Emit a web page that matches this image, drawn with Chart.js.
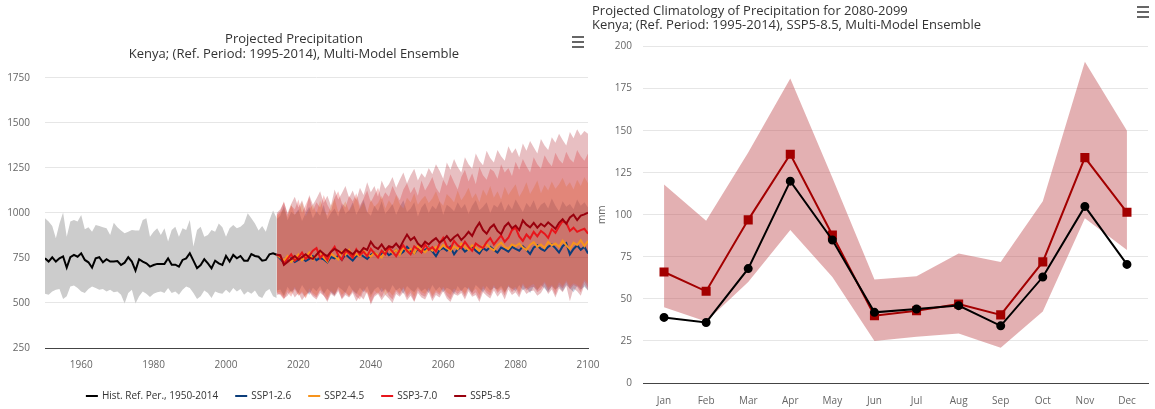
<!DOCTYPE html>
<html>
<head>
<meta charset="utf-8">
<script src="https://cdn.jsdelivr.net/npm/chart.js@4.4.0/dist/chart.umd.min.js"></script>
<style>
  html, body { margin: 0; padding: 0; background: #fff; }
  #wrap { position: relative; width: 1155px; height: 409px; }
  .box { position: absolute; top: 0; height: 409px; }
  #left { left: 0; width: 600px; }
  #right { left: 590px; width: 565px; }
</style>
</head>
<body>
<div id="wrap">
  <div class="box" id="left"><canvas id="trendChart"></canvas></div>
  <div class="box" id="right"><canvas id="climChart"></canvas></div>
</div>
<script>
// Years on the x axis
const histYears = Array.from({ length: 65 }, (_, i) => 1950 + i);
const projYears = Array.from({ length: 87 }, (_, i) => 2014 + i);
const yearTicks = [1960, 1980, 2000, 2020, 2040, 2060, 2080, 2100];

// Historical reference, annual precipitation (mm)
const histMedian = [
  748, 730, 754, 730, 748, 759, 696, 754, 767, 757,
  776, 739, 726, 696, 748, 754, 726, 743, 730, 730,
  733, 711, 724, 754, 730, 680, 743, 730, 720, 702,
  711, 717, 717, 717, 748, 713, 713, 702, 739, 748,
  776, 735, 693, 711, 743, 720, 693, 735, 720, 711,
  761, 730, 767, 748, 761, 735, 735, 772, 761, 757,
  735, 739, 770, 776, 768
];
const histHigh = [
  970, 952, 928, 859, 942, 1002, 868, 952, 961, 952,
  989, 909, 920, 896, 933, 928, 920, 915, 878, 946,
  920, 902, 887, 896, 906, 902, 902, 961, 970, 868,
  896, 915, 878, 915, 841, 906, 924, 868, 915, 906,
  961, 813, 906, 924, 868, 878, 906, 896, 942, 920,
  868, 915, 933, 915, 924, 942, 998, 970, 942, 902,
  928, 896, 961, 1013, 970
];
const histLow = [
  551, 546, 564, 573, 577, 522, 537, 592, 597, 583,
  564, 555, 577, 592, 583, 573, 577, 564, 573, 559,
  564, 546, 497, 555, 573, 497, 537, 564, 551, 533,
  551, 559, 564, 555, 583, 555, 564, 546, 573, 592,
  583, 555, 522, 537, 570, 555, 527, 564, 555, 551,
  573, 555, 583, 564, 577, 546, 564, 551, 570, 537,
  527, 564, 577, 537, 527
];

// SSP1-2.6 (2014-2100)
const ssp126 = [768,
  745, 722, 735, 748, 728, 740, 752, 733, 745, 760,
  738, 750, 742, 726, 755, 748, 762, 740, 770, 752,
  735, 760, 772, 758, 745, 768, 780, 760, 775, 790,
  765, 778, 795, 770, 785, 812, 790, 775, 800, 782,
  795, 808, 786, 760, 795, 805, 790, 812, 770, 798,
  810, 785, 800, 815, 790, 775, 805, 792, 812, 795,
  780, 808, 798, 785, 812, 800, 790, 815, 795, 772,
  808, 820, 800, 790, 812, 825, 805, 780, 815, 832,
  770, 800, 820, 795, 812, 775
];
const ssp126High = [965,
  985, 1040, 960, 1005, 990, 1020, 955, 1000, 1035, 970,
  1010, 985, 1045, 965, 1000, 1025, 980, 1050, 995, 1015,
  1060, 990, 1030, 1075, 1005, 985, 1040, 1010, 1065, 995,
  1020, 1050, 990, 1035, 1070, 1005, 1025, 1060, 980, 1030,
  1055, 1000, 1040, 1020, 1065, 990, 1045, 1030, 1010, 1060,
  1025, 1050, 995, 1040, 1070, 1015, 1035, 1060, 1000, 1045,
  1030, 1065, 1010, 1050, 1020, 1075, 1040, 1005, 1055, 1030,
  1070, 1015, 1045, 1060, 1025, 1080, 1040, 1010, 1065, 1035,
  1050, 1020, 1075, 1040, 1060, 1030
];
const ssp126Low = [570,
  575, 540, 590, 560, 580, 555, 600, 570, 545, 585,
  565, 595, 550, 580, 560, 540, 590, 575, 555, 600,
  570, 550, 585, 560, 595, 545, 575, 590, 560, 580,
  555, 600, 570, 585, 550, 595, 575, 560, 590, 565,
  580, 555, 600, 570, 590, 560, 585, 575, 550, 595,
  565, 590, 575, 555, 600, 580, 560, 595, 570, 585,
  575, 595, 560, 590, 580, 565, 600, 570, 585, 555,
  590, 570, 600, 580, 560, 595, 575, 590, 565, 600,
  580, 560, 595, 575, 590, 570
];

// SSP2-4.5 (2014-2100)
const ssp245 = [768,
  752, 735, 760, 728, 745, 770, 738, 755, 780, 742,
  765, 790, 752, 730, 775, 760, 742, 785, 768, 795,
  755, 772, 760, 790, 770, 758, 780, 765, 752, 790,
  805, 778, 795, 768, 810, 788, 800, 775, 815, 795,
  782, 805, 790, 812, 798, 822, 805, 790, 815, 800,
  830, 812, 795, 820, 808, 790, 815, 825, 805, 792,
  820, 835, 812, 800, 825, 815, 830, 808, 795, 822,
  838, 812, 825, 805, 840, 820, 830, 812, 845, 820,
  800, 835, 822, 848, 815, 845
];
const ssp245High = [980,
  1000, 1025, 975, 1050, 990, 1010, 1060, 980, 1020, 1045,
  995, 1070, 1015, 985, 1040, 1080, 1005, 1030, 1065, 1010,
  1045, 1090, 1020, 1060, 1000, 1075, 1035, 1055, 1095, 1025,
  1070, 1040, 1100, 1050, 1025, 1085, 1060, 1110, 1045, 1075,
  1095, 1055, 1080, 1120, 1065, 1040, 1105, 1085, 1060, 1125,
  1070, 1100, 1140, 1080, 1110, 1060, 1130, 1095, 1150, 1085,
  1120, 1075, 1145, 1100, 1130, 1160, 1090, 1125, 1170, 1105,
  1140, 1180, 1110, 1155, 1125, 1175, 1135, 1160, 1195, 1145,
  1170, 1130, 1185, 1150, 1200, 1165
];
const ssp245Low = [560,
  560, 535, 575, 550, 590, 545, 565, 530, 580, 555,
  540, 575, 560, 530, 570, 550, 585, 545, 565, 535,
  575, 555, 540, 580, 560, 530, 570, 550, 585, 545,
  565, 540, 575, 555, 590, 545, 570, 535, 580, 560,
  550, 585, 540, 570, 555, 590, 560, 545, 580, 565,
  575, 550, 590, 560, 580, 545, 595, 570, 555, 600,
  565, 585, 555, 600, 575, 590, 560, 610, 580, 595,
  605, 575, 590, 620, 585, 600, 570, 615, 595, 625,
  590, 610, 600, 585, 630, 605
];

// SSP3-7.0 (2014-2100)
const ssp370 = [768,
  760, 718, 745, 770, 735, 752, 780, 745, 762, 790,
  805, 750, 772, 738, 785, 812, 765, 740, 790, 775,
  752, 798, 768, 785, 760, 800, 775, 752, 790, 770,
  808, 785, 760, 795, 820, 790, 770, 815, 798, 780,
  825, 795, 810, 785, 830, 862, 815, 800, 845, 820,
  805, 840, 812, 790, 830, 815, 805, 838, 860, 825,
  850, 875, 840, 862, 905, 918, 870, 845, 880, 858,
  895, 870, 900, 885, 862, 910, 890, 925, 955, 945,
  900, 918, 895, 905, 912, 885
];
const ssp370High = [990,
  1010, 1065, 990, 1040, 1020, 1075, 1000, 1045, 1090, 1015,
  1060, 1030, 1100, 1045, 1010, 1085, 1120, 1055, 1030, 1095,
  1065, 1110, 1040, 1080, 1125, 1060, 1100, 1140, 1075, 1115,
  1090, 1150, 1105, 1070, 1130, 1165, 1110, 1145, 1095, 1180,
  1125, 1160, 1200, 1140, 1110, 1185, 1150, 1215, 1170, 1130,
  1200, 1240, 1175, 1220, 1160, 1255, 1210, 1185, 1245, 1230,
  1190, 1270, 1225, 1250, 1205, 1285, 1240, 1300, 1260, 1225,
  1310, 1270, 1245, 1320, 1285, 1260, 1335, 1295, 1275, 1340,
  1300, 1280, 1350, 1315, 1290, 1330
];
const ssp370Low = [555,
  545, 520, 560, 535, 575, 540, 555, 525, 565, 545,
  530, 570, 540, 515, 560, 545, 575, 525, 555, 540,
  565, 535, 520, 570, 550, 500, 545, 560, 530, 575,
  540, 520, 565, 545, 580, 530, 555, 510, 570, 545,
  535, 575, 525, 560, 545, 580, 540, 520, 565, 550,
  570, 535, 585, 545, 560, 520, 580, 555, 540, 590,
  555, 575, 540, 595, 560, 580, 545, 600, 570, 585,
  590, 560, 575, 610, 570, 590, 545, 600, 580, 615,
  575, 600, 590, 560, 620, 585
];

// SSP5-8.5 (2014-2100)
const ssp585 = [768,
  765, 712, 728, 745, 760, 740, 755, 770, 752, 745,
  768, 790, 772, 760, 785, 800, 790, 775, 798, 785,
  770, 792, 780, 805, 795, 840, 812, 800, 825, 795,
  815, 808, 830, 805, 845, 880, 850, 865, 830, 812,
  840, 825, 845, 860, 835, 850, 872, 845, 865, 880,
  850, 870, 895, 872, 915, 945, 905, 885, 918, 935,
  900, 882, 925, 945, 915, 930, 905, 958, 935, 920,
  945, 918, 940, 925, 948, 930, 912, 945, 965, 940,
  975, 990, 960, 985, 992, 1002
];
const ssp585High = [1000,
  1020, 1060, 1000, 1050, 1090, 1030, 1070, 1010, 1100, 1045,
  1080, 1120, 1055, 1095, 1040, 1130, 1075, 1110, 1150, 1085,
  1125, 1070, 1140, 1100, 1170, 1115, 1150, 1090, 1180, 1135,
  1160, 1200, 1140, 1185, 1225, 1165, 1210, 1245, 1180, 1220,
  1195, 1250, 1215, 1270, 1235, 1190, 1280, 1240, 1300, 1255,
  1225, 1310, 1270, 1245, 1330, 1290, 1265, 1345, 1305, 1280,
  1350, 1315, 1290, 1370, 1330, 1360, 1310, 1385, 1345, 1400,
  1365, 1330, 1410, 1375, 1350, 1420, 1390, 1440, 1405, 1375,
  1450, 1415, 1465, 1430, 1455, 1440
];
const ssp585Low = [545,
  550, 525, 540, 570, 530, 555, 515, 545, 560, 535,
  520, 555, 540, 505, 550, 535, 565, 520, 545, 530,
  555, 510, 540, 520, 565, 490, 535, 550, 515, 545,
  525, 500, 550, 535, 560, 515, 540, 505, 555, 530,
  520, 560, 510, 545, 530, 565, 525, 505, 550, 540,
  555, 520, 565, 535, 545, 505, 560, 540, 525, 570,
  535, 560, 520, 575, 545, 560, 530, 580, 550, 565,
  570, 540, 555, 590, 550, 575, 530, 580, 560, 595,
  510, 580, 565, 540, 600, 570
];

// Monthly climatology 2080-2099 (mm)
const months = ['Jan', 'Feb', 'Mar', 'Apr', 'May', 'Jun', 'Jul', 'Aug', 'Sep', 'Oct', 'Nov', 'Dec'];
const climRef = [39, 36, 68, 120, 85, 42, 44, 46, 34, 63, 105, 70.5];
const climSsp585 = [66, 54.5, 97, 136, 88, 40, 43, 47, 40.5, 72, 134, 101.5];
const climLow = [45, 36.5, 60, 91, 63, 25, 27.5, 29.5, 21, 42.5, 98, 79];
const climHigh = [118, 96.5, 137, 181, 122, 61.5, 63.5, 77, 72, 108, 191, 150];

Chart.defaults.font.family = '"Open Sans", sans-serif';
Chart.defaults.color = '#666';
Chart.defaults.animation = false;

const toPoints = (years, vals) => years.map((yr, i) => ({ x: yr, y: vals[i] }));

const scenarios = [
  { name: 'SSP1-2.6', mid: ssp126, low: ssp126Low, high: ssp126High, color: '#0b3d7a', band: 'rgba(20,60,120,0.24)' },
  { name: 'SSP2-4.5', mid: ssp245, low: ssp245Low, high: ssp245High, color: '#f7941d', band: 'rgba(245,150,40,0.27)' },
  { name: 'SSP3-7.0', mid: ssp370, low: ssp370Low, high: ssp370High, color: '#e8151b', band: 'rgba(230,40,40,0.27)' },
  { name: 'SSP5-8.5', mid: ssp585, low: ssp585Low, high: ssp585High, color: '#99000d', band: 'rgba(170,20,30,0.27)' }
];

// Hamburger menu icon
function menuIcon(x, y) {
  return {
    id: 'menuIcon',
    afterDraw(chart) {
      const c = chart.ctx;
      c.save();
      c.strokeStyle = '#666';
      c.lineWidth = 2;
      for (let i = 0; i < 3; i++) {
        c.beginPath();
        c.moveTo(x, y + i * 5);
        c.lineTo(x + 12, y + i * 5);
        c.stroke();
      }
      c.restore();
    }
  };
}

// Legend drawn as short lines under the trend chart
const lineLegend = {
  id: 'lineLegend',
  afterDraw(chart) {
    const c = chart.ctx;
    const items = chart.data.datasets.filter(d => d.inLegend);
    c.save();
    c.font = '10px "Open Sans", sans-serif';
    c.textBaseline = 'middle';
    const widths = items.map(d => c.measureText(d.label).width);
    const total = widths.reduce((a, w) => a + w + 16, 0) + 17 * (items.length - 1);
    let x = 298 - total / 2;
    const y = 396;
    items.forEach((d, i) => {
      c.strokeStyle = d.borderColor;
      c.lineWidth = 2;
      c.beginPath();
      c.moveTo(x, y);
      c.lineTo(x + 12, y);
      c.stroke();
      c.fillStyle = '#333';
      c.fillText(d.label, x + 16, y);
      x += 16 + widths[i] + 17;
    });
    c.restore();
  }
};

// Build trend chart datasets
const trendSets = [];
trendSets.push({ data: toPoints(histYears, histLow), borderWidth: 0, pointRadius: 0, fill: false, order: 10 });
trendSets.push({ data: toPoints(histYears, histHigh), borderWidth: 0, pointRadius: 0, fill: 0, backgroundColor: '#cccccc', order: 10 });
scenarios.forEach((s, k) => {
  const lowIdx = trendSets.length;
  trendSets.push({ data: toPoints(projYears, s.low), borderWidth: 0, pointRadius: 0, fill: false, order: 8 - k });
  trendSets.push({ data: toPoints(projYears, s.high), borderWidth: 0, pointRadius: 0, fill: lowIdx, backgroundColor: s.band, order: 8 - k });
});
trendSets.push({
  label: 'Hist. Ref. Per., 1950-2014', data: toPoints(histYears, histMedian),
  borderColor: '#000', borderWidth: 2, pointRadius: 0, fill: false, inLegend: true, order: 0
});
scenarios.forEach((s, k) => {
  trendSets.push({
    label: s.name, data: toPoints(projYears, s.mid),
    borderColor: s.color, borderWidth: 2, pointRadius: 0, fill: false, inLegend: true, order: -1 - k
  });
});

new Chart(document.getElementById('trendChart'), {
  type: 'line',
  data: { datasets: trendSets },
  options: {
    responsive: true,
    maintainAspectRatio: false,
    layout: { padding: { left: 0, right: 12, top: 0, bottom: 31 } },
    elements: { line: { tension: 0 } },
    plugins: {
      legend: { display: false },
      tooltip: { enabled: false },
      title: {
        display: true,
        text: ['Projected Precipitation', 'Kenya; (Ref. Period: 1995-2014), Multi-Model Ensemble'],
        color: '#333',
        font: { size: 13, weight: 'normal', lineHeight: 1.15 },
        padding: { top: 32, bottom: 16 }
      }
    },
    scales: {
      x: {
        type: 'linear',
        min: 1950,
        max: 2100,
        afterBuildTicks: axis => { axis.ticks = yearTicks.map(v => ({ value: v })); },
        afterFit: s => { s.height = 30; s.paddingRight = 0; s.paddingLeft = 0; },
        ticks: { callback: v => String(v), font: { size: 10 }, padding: 11, maxRotation: 0, autoSkip: false },
        grid: { display: false, drawTicks: false },
        border: { display: true, color: '#444', width: 1 }
      },
      y: {
        min: 250,
        max: 1750,
        afterFit: s => { s.width = 45; },
        ticks: { stepSize: 250, callback: v => String(v), font: { size: 10 }, padding: 15 },
        grid: { color: '#e6e6e6', drawTicks: false },
        border: { display: false }
      }
    }
  },
  plugins: [lineLegend, menuIcon(572, 37)]
});

// Monthly climatology chart
new Chart(document.getElementById('climChart'), {
  type: 'line',
  data: {
    labels: months,
    datasets: [
      { data: climLow, borderWidth: 0, pointRadius: 0, fill: false, order: 5 },
      { data: climHigh, borderWidth: 0, pointRadius: 0, fill: 0, backgroundColor: 'rgba(192,80,85,0.45)', order: 5 },
      {
        label: 'SSP5-8.5', data: climSsp585, borderColor: '#a30000', backgroundColor: '#a30000',
        borderWidth: 2, pointStyle: 'rect', pointRadius: 5, fill: false, order: -1
      },
      {
        label: 'Reference', data: climRef, borderColor: '#000', backgroundColor: '#000',
        borderWidth: 2, pointStyle: 'circle', pointRadius: 3.5, fill: false, order: -2
      }
    ]
  },
  options: {
    responsive: true,
    maintainAspectRatio: false,
    layout: { padding: { left: 2, right: 1, top: 0, bottom: 0 } },
    elements: { line: { tension: 0 } },
    plugins: {
      legend: { display: false },
      tooltip: { enabled: false },
      title: {
        display: true,
        align: 'start',
        text: ['Projected Climatology of Precipitation for 2080-2099', 'Kenya; (Ref. Period: 1995-2014), SSP5-8.5, Multi-Model Ensemble'],
        color: '#333',
        font: { size: 13, weight: 'normal', lineHeight: 1.1 },
        padding: { top: 4, bottom: 14 }
      }
    },
    scales: {
      x: {
        offset: true,
        afterFit: s => { s.height = 26; },
        ticks: { font: { size: 10 }, padding: 12, maxRotation: 0 },
        grid: { display: false, drawTicks: false },
        border: { display: true, color: '#444', width: 1 }
      },
      y: {
        min: 0,
        max: 200,
        afterFit: s => { s.width = 51; },
        title: { display: true, text: 'mm', font: { size: 10 }, color: '#666', padding: { top: 4, bottom: 0 } },
        ticks: { stepSize: 25, font: { size: 10 }, padding: 11 },
        grid: { color: '#e6e6e6', drawTicks: false },
        border: { display: false }
      }
    }
  },
  plugins: [menuIcon(547, 7)]
});
</script>
</body>
</html>
